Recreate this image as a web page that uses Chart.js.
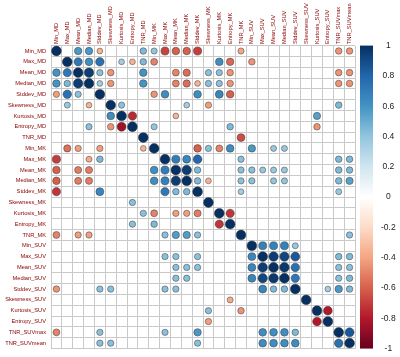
<!DOCTYPE html>
<html><head><meta charset="utf-8">
<script src="https://cdn.jsdelivr.net/npm/chart.js@4/dist/chart.umd.min.js"></script>
<style>html,body{margin:0;padding:0;background:#fff}canvas{display:block}</style>
</head><body>
<canvas id="c" width="400" height="357"></canvas>
<script>
const _ = null;
const variables = ['Min_MD','Max_MD','Mean_MD','Median_MD','Stddev_MD','Skewness_MD','Kurtosis_MD','Entropy_MD','TNR_MD',
  'Min_MK','Max_MK','Mean_MK','Median_MK','Stddev_MK','Skewness_MK','Kurtosis_MK','Entropy_MK','TNR_MK',
  'Min_SUV','Max_SUV','Mean_SUV','Median_SUV','Stddev_SUV','Skewness_SUV','Kurtosis_SUV','Entropy_SUV','TNR_SUVmax','TNR_SUVmean'];
const colorbarTicks = [1, 0.8, 0.6, 0.4, 0.2, 0, -0.2, -0.4, -0.6, -0.8, -1];
const colorbarLabels = ['1','0.8','0.6','0.4','0.2','0','-0.2','-0.4','-0.6','-0.8','-1'];
const paletteStops = ['#67001F','#B2182B','#D6604D','#F4A582','#FDDBC7','#FFFFFF','#D1E5F0','#92C5DE','#4393C3','#2166AC','#053061'];

// correlation rows (null = blank cell)
const r_Min_MD      = [1,_,.58,.58,-.35,_,_,_,.45,.4,-.68,-.6,-.6,-.7,_,_,_,-.4,_,_,_,_,_,_,_,_,-.45,-.45];
const r_Max_MD      = [_,1,.72,.62,.75,_,.35,-.35,.45,-.5,_,_,_,_,_,.62,-.58,_,-.45,_,_,_,_,_,_,_,_,_];
const r_Mean_MD     = [.6,.72,1,.95,.42,-.45,_,_,.6,_,_,-.5,-.56,_,.42,.42,-.45,_,_,_,_,_,_,_,_,_,-.45,-.45];
const r_Median_MD   = [.6,.45,.95,1,.35,-.45,_,_,.6,_,_,-.5,-.56,-.35,.42,.42,-.45,_,_,_,_,_,_,_,_,_,-.45,-.45];
const r_Stddev_MD   = [-.42,.75,.42,_,1,_,_,_,_,-.45,.62,_,_,.62,_,.66,-.6,_,_,_,_,_,_,_,_,_,_,_];
const r_Skewness_MD = [_,.38,_,-.35,_,1,.42,_,_,_,_,_,.35,_,-.42,_,_,_,_,_,_,_,_,_,_,_,.45,_];
const r_Kurtosis_MD = [_,_,_,_,_,.62,1,-.75,_,_,_,-.35,_,_,_,_,_,_,_,_,_,_,_,_,.55,_,_,_];
const r_Entropy_MD  = [_,_,_,.42,_,-.45,-.85,1,_,.4,_,_,_,_,_,_,.45,_,_,_,_,_,_,_,-.45,_,_,_];
const r_TNR_MD      = [_,_,_,_,_,_,_,_,1,_,_,_,_,_,_,_,_,-.65,_,_,_,_,_,_,_,_,_,_];
const r_Min_MK      = [_,-.55,-.42,_,-.42,_,_,_,-.35,1,_,_,_,-.6,.42,-.5,.62,_,.58,_,.38,.38,_,_,_,_,_,_];
const r_Max_MK      = [-.7,_,_,-.38,.45,_,_,_,_,_,1,.7,.66,.8,_,_,_,.42,_,_,_,_,_,_,_,_,.45,.45];
const r_Mean_MK     = [-.6,_,-.52,-.52,_,_,_,_,_,.62,.7,1,.95,.45,_,_,_,.42,.42,.38,.38,.38,_,_,_,_,.45,.45];
const r_Median_MK   = [-.6,_,-.52,-.52,_,_,_,_,_,.62,.68,.95,1,.45,-.35,_,_,.42,.42,_,.4,.4,_,_,_,_,.45,.55];
const r_Stddev_MK   = [-.72,_,_,_,.66,_,_,_,_,_,.72,.45,.45,1,_,_,_,.35,_,_,_,_,_,_,_,_,.38,_];
const r_Skewness_MK = [_,_,_,_,_,_,_,.42,_,_,_,_,_,_,1,_,_,_,_,_,_,_,_,_,_,_,_,_];
const r_Kurtosis_MK = [_,_,_,_,_,_,_,_,.42,-.5,_,-.42,-.42,-.52,_,1,-.72,_,_,_,_,_,_,_,_,_,_,_];
const r_Entropy_MK  = [_,_,_,_,_,_,_,.42,_,.45,_,_,_,_,_,-.72,1,_,_,_,_,_,_,_,_,_,_,_];
const r_TNR_MK      = [-.5,_,-.42,-.42,_,_,_,_,_,_,.42,.56,.56,.42,_,_,_,1,_,_,_,_,_,_,_,_,_,.42];
const r_Min_SUV     = [_,_,_,_,_,_,_,_,_,_,_,_,_,_,_,_,_,_,1,.68,.68,.68,.38,_,_,_,_,_];
const r_Max_SUV     = [_,_,_,_,_,_,_,_,_,_,.42,.42,_,.42,_,_,_,_,.66,1,.95,.92,.85,_,_,_,.45,.45];
const r_Mean_SUV    = [_,_,_,_,_,_,_,_,_,_,_,.42,.42,.42,_,_,_,_,.66,.95,1,.97,.75,_,_,_,.42,.42];
const r_Median_SUV  = [_,_,_,_,_,_,_,_,_,_,_,.42,.42,_,_,_,_,_,.66,.92,.97,1,.72,_,_,_,.42,.45];
const r_Stddev_SUV  = [-.45,_,_,_,.42,.42,_,_,_,_,.42,.42,_,_,_,_,_,_,_,.66,.45,.45,1,_,_,.35,.58,.45];
const r_Skewness_SUV= [_,_,_,_,_,_,_,_,_,_,_,_,_,_,_,_,-.38,_,_,_,_,_,_,1,_,_,_,_];
const r_Kurtosis_SUV= [_,_,_,_,_,_,_,_,_,_,_,_,_,_,.42,_,_,-.45,_,_,_,_,_,_,1,-.8,_,_];
const r_Entropy_SUV = [_,_,_,_,_,_,_,_,_,_,_,_,_,_,-.42,_,_,_,_,_,_,_,_,_,-.8,1,_,_];
const r_TNR_SUVmax  = [-.5,_,_,_,.42,_,_,_,_,_,.42,_,_,.58,_,_,_,_,_,.62,.62,.62,.45,_,_,_,1,.85];
const r_TNR_SUVmean = [_,_,_,_,.42,.42,_,_,_,_,_,_,_,.42,_,_,_,_,_,.62,.62,.62,.62,_,_,_,.75,1];

const rows = [r_Min_MD,r_Max_MD,r_Mean_MD,r_Median_MD,r_Stddev_MD,r_Skewness_MD,r_Kurtosis_MD,r_Entropy_MD,r_TNR_MD,
  r_Min_MK,r_Max_MK,r_Mean_MK,r_Median_MK,r_Stddev_MK,r_Skewness_MK,r_Kurtosis_MK,r_Entropy_MK,r_TNR_MK,
  r_Min_SUV,r_Max_SUV,r_Mean_SUV,r_Median_SUV,r_Stddev_SUV,r_Skewness_SUV,r_Kurtosis_SUV,r_Entropy_SUV,r_TNR_SUVmax,r_TNR_SUVmean];

function hexRgb(h){ return [1,3,5].map(i => parseInt(h.substr(i,2),16)); }
const paletteRgb = paletteStops.map(hexRgb);
function corrColor(v){
  const n = paletteRgb.length - 1;
  const t = Math.max(0, Math.min(1, (v + 1) / 2)) * n;
  const i = Math.min(Math.floor(t), n - 1);
  const f = t - i;
  const a = paletteRgb[i], b = paletteRgb[i + 1];
  const c = a.map((x, k) => Math.round(x + (b[k] - x) * f));
  return `rgb(${c[0]},${c[1]},${c[2]})`;
}

const points = [];
rows.forEach((row, i) => row.forEach((v, j) => {
  if (v !== null) points.push({ x: variables[j], y: variables[i], v: v });
}));

function circleRadius(ctx){
  const s = ctx.chart.scales.x;
  const cell = s.width / variables.length;
  return 0.45 * Math.sqrt(Math.abs(ctx.raw.v)) * cell;
}

const colorbarPlugin = {
  id: 'colorbar',
  afterDraw(chart){
    const s = chart.scales.cb;
    const c = chart.ctx;
    const top = s.getPixelForValue(1), bottom = s.getPixelForValue(-1);
    const g = c.createLinearGradient(0, bottom, 0, top);
    paletteStops.forEach((col, i) => g.addColorStop(i / (paletteStops.length - 1), col));
    c.save();
    c.fillStyle = g;
    c.fillRect(s.left + 5, top, 13, bottom - top);
    c.restore();
  }
};

const labelSize = 5.7;
const labelFont = { family: "'Liberation Sans', Arial, sans-serif", size: labelSize, lineHeight: 1.2 };

new Chart(document.getElementById('c'), {
  type: 'scatter',
  data: {
    datasets: [{
      data: points,
      pointRadius: circleRadius,
      pointHoverRadius: circleRadius,
      pointBackgroundColor: ctx => corrColor(ctx.raw.v),
      pointBorderColor: 'rgba(60,60,60,0.85)',
      pointBorderWidth: 0.6
    }]
  },
  options: {
    responsive: false,
    animation: false,
    devicePixelRatio: 1,
    events: [],
    layout: { padding: { left: 0, right: 0, top: 0, bottom: 7.4 } },
    plugins: { legend: { display: false }, tooltip: { enabled: false } },
    scales: {
      x: {
        type: 'category', labels: variables, position: 'top', offset: true,
        grid: { offset: true, color: '#c9c9c9', drawTicks: false },
        border: { display: false },
        ticks: { autoSkip: false, minRotation: 90, maxRotation: 90, padding: 1.5,
                 labelOffset: labelSize * 1.2, color: '#8b0000', font: labelFont },
        afterFit: s => { s.height = 45.6; }
      },
      y: {
        type: 'category', labels: variables, position: 'left', offset: true,
        grid: { offset: true, color: '#c9c9c9', drawTicks: false },
        border: { display: false },
        ticks: { autoSkip: false, padding: 5, color: '#8b0000', font: labelFont },
        afterFit: s => { s.width = 51; }
      },
      cb: {
        type: 'linear', position: 'right', min: -1, max: 1,
        grid: { display: false, drawTicks: true, tickLength: 26 },
        border: { display: false },
        afterBuildTicks: s => { s.ticks = colorbarTicks.map(v => ({ value: v })); },
        ticks: {
          callback: v => colorbarLabels[colorbarTicks.indexOf(Math.round(v * 10) / 10)],
          crossAlign: 'center', padding: 0, color: '#222',
          font: { family: "'Liberation Sans', Arial, sans-serif", size: 8.5 }
        },
        afterFit: s => { s.width = 45; }
      }
    }
  },
  plugins: [colorbarPlugin]
});
</script>
</body></html>
